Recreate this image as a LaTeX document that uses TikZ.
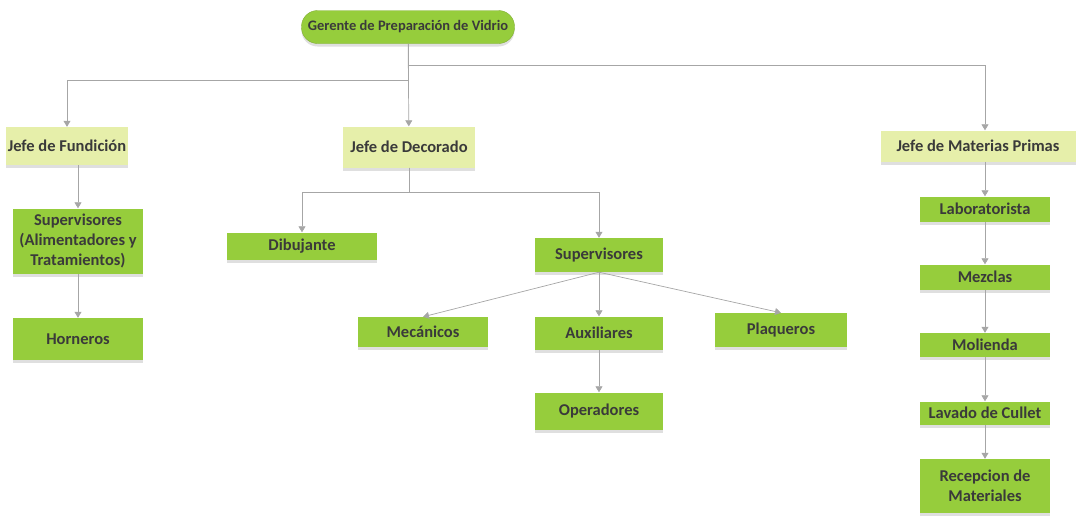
\documentclass[tikz,border=0pt]{standalone}
\usepackage{fontspec}
\setmainfont{Carlito}
\usepackage{tikz}
\usetikzlibrary{arrows.meta,shadows}
\definecolor{verde}{HTML}{96CD3C}
\definecolor{verdeclaro}{HTML}{E6EFAA}
\definecolor{texto}{HTML}{3A3A3A}
\definecolor{linea}{HTML}{A6A6A6}

\begin{document}
\begin{tikzpicture}[
				        x=1pt, y=-1pt,
				        >={Triangle[width=7pt,length=6pt]},
				        node distance=68pt,
				        caja/.style={rectangle, fill=verde, text=texto, align=center, inner sep=2pt,
				                     font=\fontsize{16.5}{20}\selectfont\bfseries,
				                     drop shadow={shadow xshift=0pt, shadow yshift=-3pt, opacity=0.25}},
				        jefe/.style={caja, fill=verdeclaro},
				        gerente/.style={caja, rounded corners=16pt, draw=verde!85!black, font=\fontsize{14.5}{17}\selectfont\bfseries},
				        conn/.style={draw=linea, line width=0.7pt, ->, color=linea},
				        flecha/.style={every edge/.style={conn}}
				        ]
				        \useasboundingbox (0,0) rectangle (1078,515);
				        \node[gerente, minimum width=213pt, minimum height=33pt] (gerente) at (408,27) {Gerente de Preparación de Vidrio};
				        \node[jefe, minimum width=111pt, minimum height=38pt] (fundicion) at (67,146) {Jefe de Fundición};
				        \node[jefe, minimum width=132pt, minimum height=41pt] (decorado) at (409,147) {Jefe de Decorado};
				        \node[jefe, minimum width=195pt, minimum height=31pt] (materias) at (978,146) {Jefe de Materias Primas};

				        \node[caja, minimum width=130pt, minimum height=65pt] (supervisoresF) at (78,241) {Supervisores\\(Alimentadores y\\Tratamientos)};
				        \node[caja, minimum width=130pt, minimum height=42pt] (horneros) at (78,339) {Horneros};

				        \node[caja, minimum width=150pt, minimum height=27pt] (dibujante) at (302,246) {Dibujante};
				        \node[caja, minimum width=128pt, minimum height=34pt] (supervisoresD) at (599,255) {Supervisores};
				        \node[caja, minimum width=130pt, minimum height=30pt] (mecanicos) at (423,332) {Mecánicos};
				        \node[caja, minimum width=128pt, minimum height=33pt] (auxiliares) at (599,333) {Auxiliares};
				        \node[caja, minimum width=128pt, minimum height=37pt] (operadores) at (599,411) {Operadores};
				        \node[caja, minimum width=132pt, minimum height=34pt] (plaqueros) at (781,330) {Plaqueros};

				        \node[caja, minimum width=130pt, minimum height=25pt] (laboratorista) at (985,209) {Laboratorista};
				        \node[caja, minimum width=130pt, minimum height=25pt] (mezclas) [below of = laboratorista] {Mezclas};
				        \node[caja, minimum width=130pt, minimum height=24pt] (molienda) [below of = mezclas] {Molienda};
				        \node[caja, minimum width=130pt, minimum height=23pt] (lavado) [below of = molienda] {Lavado de Cullet};
				        \node[caja, minimum width=130pt, minimum height=54pt, node distance=73pt] (recepcion) [below of = lavado] {Recepcion de\\Materiales};

				        \coordinate (barraA) at (0,80);
				        \coordinate (barraB) at (0,65);
				        \coordinate (barraC) at (0,192);

				        \draw[conn] (gerente.south) |- (barraA -| fundicion) -- (fundicion);
				        \draw[conn] (gerente.south) |- (barraB -| laboratorista) -- (laboratorista |- materias.north);
				        \draw[conn] (decorado.south) |- (barraC -| dibujante) -- (dibujante);
				        \draw[conn] (decorado.south) |- (barraC -| supervisoresD) -- (supervisoresD);
				        \draw[conn] (fundicion.south -| supervisoresF) -- (supervisoresF);
				        \draw[conn] (materias.south -| laboratorista) -- (laboratorista);
				        \path[flecha]
				              (gerente) edge (decorado)
				              (supervisoresF) edge (horneros)

				              (supervisoresD.south) edge (mecanicos.north)
				              (supervisoresD) edge (auxiliares)
				              (supervisoresD.south) edge (plaqueros.north)
				              (auxiliares) edge (operadores)

				              (laboratorista) edge (mezclas)
				              (mezclas) edge (molienda)
				              (molienda) edge (lavado)
				              (lavado) edge (recepcion);
				    \end{tikzpicture}
\end{document}
